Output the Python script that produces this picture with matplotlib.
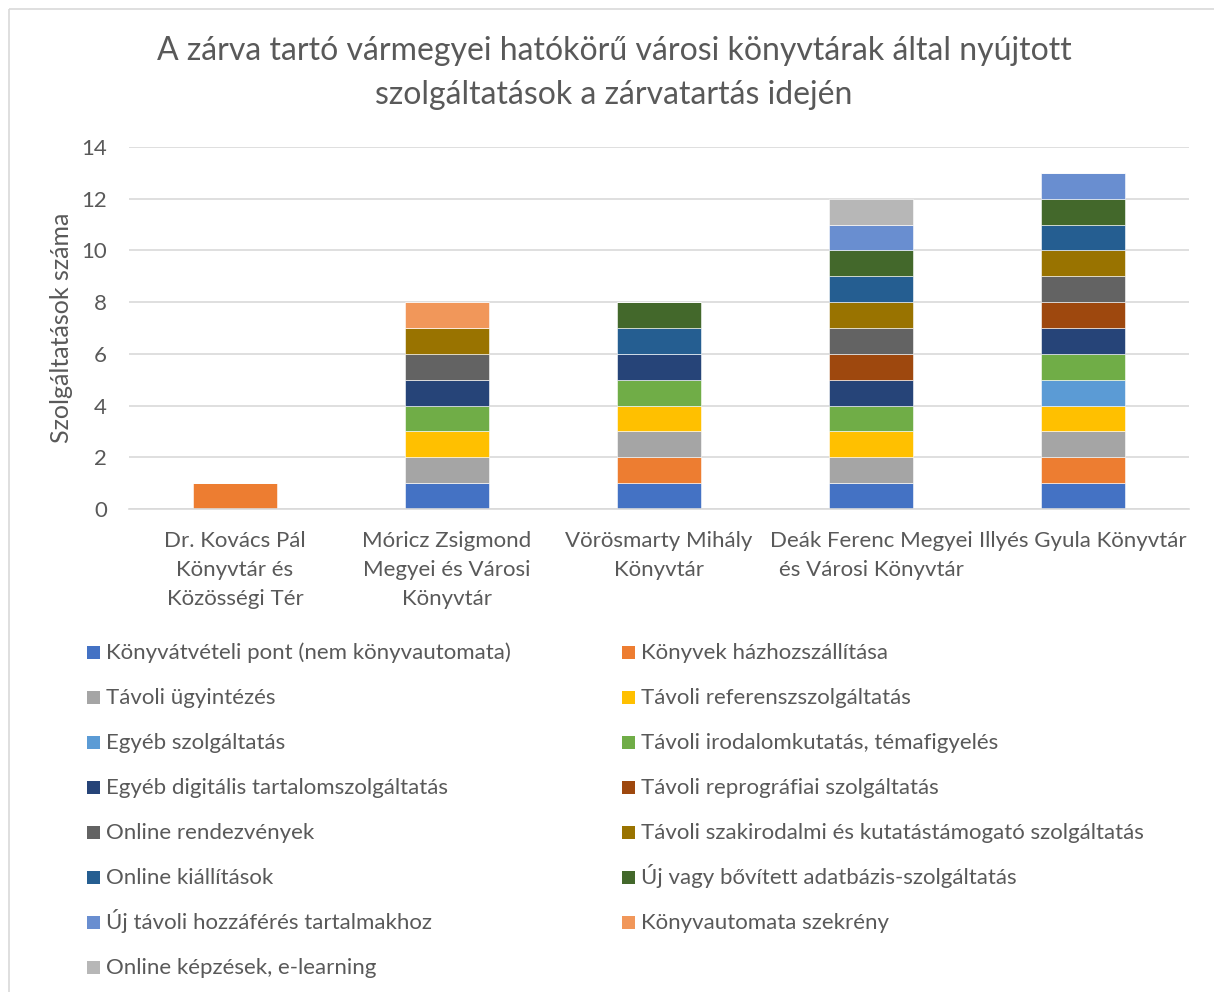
import matplotlib.pyplot as plt
from matplotlib.patches import Rectangle
import numpy as np

plt.rcParams['font.family'] = ['Lato', 'DejaVu Sans']

# kategóriák (könyvtárak)
libraries = [
    "Dr. Kovács Pál\nKönyvtár és\nKözösségi Tér",
    "Móricz Zsigmond\nMegyei és Városi\nKönyvtár",
    "Vörösmarty Mihály\nKönyvtár",
    "Deák Ferenc Megyei\nés Városi Könyvtár",
    "Illyés Gyula Könyvtár",
]

services = [
    "Könyvátvételi pont (nem könyvautomata)",
    "Könyvek házhozszállítása",
    "Távoli ügyintézés",
    "Távoli referenszszolgáltatás",
    "Egyéb szolgáltatás",
    "Távoli irodalomkutatás, témafigyelés",
    "Egyéb digitális tartalomszolgáltatás",
    "Távoli reprográfiai szolgáltatás",
    "Online rendezvények",
    "Távoli szakirodalmi és kutatástámogató szolgáltatás",
    "Online kiállítások",
    "Új vagy bővített adatbázis-szolgáltatás",
    "Új távoli hozzáférés tartalmakhoz",
    "Könyvautomata szekrény",
    "Online képzések, e-learning",
]

konyvatveteli = [0, 1, 1, 1, 1]
hazhozszallitas = [1, 0, 1, 0, 1]
ugyintezes = [0, 1, 1, 1, 1]
referensz = [0, 1, 1, 1, 1]
egyeb_szolg = [0, 0, 0, 0, 1]
irodalomkutatas = [0, 1, 1, 1, 1]
egyeb_digitalis = [0, 1, 1, 1, 1]
reprografia = [0, 0, 0, 1, 1]
online_rendezveny = [0, 1, 0, 1, 1]
szakirodalmi = [0, 1, 0, 1, 1]
online_kiallitas = [0, 0, 1, 1, 1]
uj_adatbazis = [0, 0, 1, 1, 1]
uj_tavoli = [0, 0, 0, 1, 1]
konyvautomata = [0, 1, 0, 0, 0]
online_kepzes = [0, 0, 0, 1, 0]

series = [konyvatveteli, hazhozszallitas, ugyintezes, referensz, egyeb_szolg,
          irodalomkutatas, egyeb_digitalis, reprografia, online_rendezveny,
          szakirodalmi, online_kiallitas, uj_adatbazis, uj_tavoli,
          konyvautomata, online_kepzes]

colors = ["#4472C4", "#ED7D31", "#A5A5A5", "#FFC000", "#5B9BD5", "#70AD47",
          "#264478", "#9E480E", "#636363", "#997300", "#255E91", "#43682B",
          "#698ED0", "#F1975A", "#B7B7B7"]

TXT = "#595959"
GRID = "#D9D9D9"
W, H = 1214, 992

fig = plt.figure(figsize=(W / 100, H / 100), dpi=100)

# rajzlap pixel-koordinátákkal (keret + jelmagyarázat)
over = fig.add_axes([0, 0, 1, 1])
over.set_xlim(0, W)
over.set_ylim(H, 0)
over.axis("off")
over.add_patch(Rectangle((9, 9), W + 20, H + 20, fill=False,
                         edgecolor=GRID, linewidth=1.2))

ax = fig.add_axes([129 / W, 1 - 509 / H, 1060 / W, 362 / H])

x = np.arange(len(libraries))
bottom = np.zeros(len(libraries))
for name, vals, col in zip(services, series, colors):
    vals = np.array(vals)
    ax.bar(x, vals, 0.4, bottom=bottom, color=col, edgecolor="white",
           linewidth=0.4, label=name)
    bottom += vals

ax.set_xlim(-0.5, len(libraries) - 0.5)
ax.set_ylim(0, 14)
ax.set_yticks(range(0, 15, 2))
ax.set_xticks(x)
ax.set_xticklabels(libraries, linespacing=1.55)
ax.tick_params(axis="both", length=0, labelsize=16, labelcolor=TXT)
ax.tick_params(axis="x", pad=16)
ax.tick_params(axis="y", pad=16)
ax.grid(axis="y", color=GRID, linewidth=1.2)
ax.set_axisbelow(True)
for s in ["top", "right", "left"]:
    ax.spines[s].set_visible(False)
ax.spines["bottom"].set_color(GRID)
ax.spines["bottom"].set_linewidth(1.2)

ax.set_ylabel("Szolgáltatások száma", fontsize=18, color=TXT, labelpad=6)

fig.text(614 / W, 1 - 73 / H,
         "A zárva tartó vármegyei hatókörű városi könyvtárak által nyújtott\n"
         "szolgáltatások a zárvatartás idején",
         ha="center", va="center", fontsize=23, color=TXT, linespacing=1.55)

# jelmagyarázat két oszlopban, soronként balról jobbra
col_x = [87, 622]
for i, (name, col) in enumerate(zip(services, colors)):
    row, c = divmod(i, 2)
    yc = 652 + 45 * row
    over.add_patch(Rectangle((col_x[c], yc - 6.5), 13, 13, facecolor=col,
                             edgecolor="none"))
    over.text(col_x[c] + 19, yc + 7, name, fontsize=16, color=TXT,
              ha="left", va="baseline")

fig.savefig("out.png", dpi=100)
